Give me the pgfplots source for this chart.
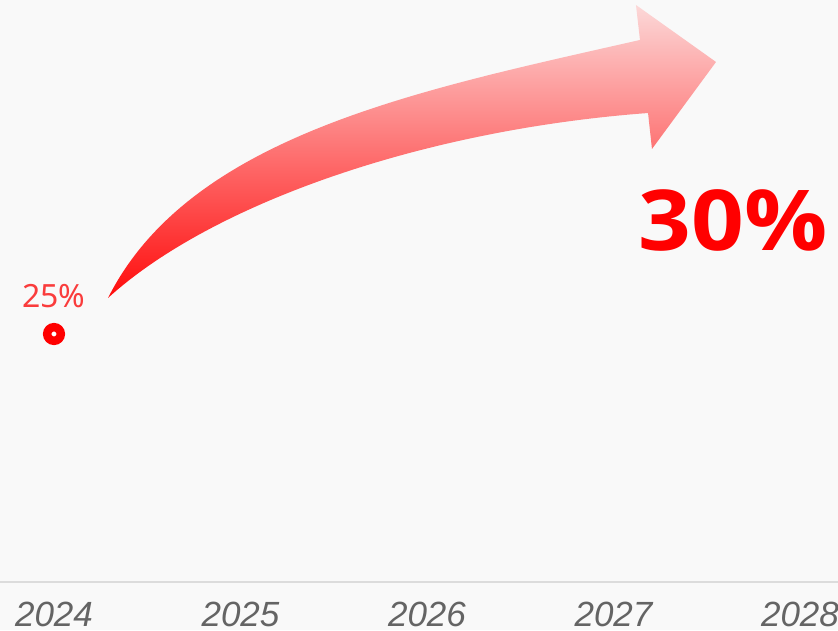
\documentclass[border=0pt]{standalone}
\usepackage{pgfplots}
\pgfplotsset{compat=1.18}
\usepackage{fontspec}
\setmainfont{Noto Sans}
\newfontfamily\bigfont{Open Sans}[FakeStretch=1.1]
\newfontfamily\tickfont{Liberation Sans}
\definecolor{bgc}{RGB}{249,249,249}
\definecolor{axisln}{RGB}{220,220,220}
\definecolor{ticktxt}{RGB}{100,100,100}
\definecolor{lbl}{RGB}{250,60,60}
\definecolor{arrtop}{RGB}{252,216,216}
\definecolor{arrbot}{RGB}{255,12,12}

\begin{document}
\begin{tikzpicture}
\useasboundingbox (0,-24pt) rectangle (419pt,291pt);
\fill[bgc] (0,-24pt) rectangle (419pt,291pt);
\begin{axis}[
    at={(0,0)}, anchor=south west,
    scale only axis,
    width=419pt, height=291pt,
    xmin=2023.7105, xmax=2028.204,
    ymin=0, ymax=58.67,
    axis x line=bottom,
    axis y line=none,
    axis line style={draw=axisln, line width=1pt, -},
    xtick={2024,2025,2026,2027,2028},
    xticklabels={2024,2025,2026,2027,2028},
    major tick length=0pt,
    xticklabel style={font=\tickfont\itshape\fontsize{17.5}{19}\selectfont, text=ticktxt, anchor=center, yshift=-16pt},
    clip=false,
]
% curved gradient arrow (decoration), positions in relative axis units
\shade[top color=arrtop, bottom color=arrbot]
  (rel axis cs:0.1289,0.4880)
  .. controls (rel axis cs:0.2267,0.7680) and (rel axis cs:0.5012,0.8454) ..
  (rel axis cs:0.7637,0.9313)
  -- (rel axis cs:0.7589,0.9914)
  -- (rel axis cs:0.8544,0.8935)
  -- (rel axis cs:0.7780,0.7440)
  -- (rel axis cs:0.7733,0.8058)
  .. controls (rel axis cs:0.5012,0.7766) and (rel axis cs:0.2506,0.6478) ..
  (rel axis cs:0.1289,0.4880) -- cycle;

\addplot[only marks, mark=*, mark size=3.4pt,
  mark options={draw=red, fill=white, line width=4.25pt},
  nodes near coords, point meta=explicit symbolic,
  nodes near coords style={font=\fontsize{16}{18}\selectfont, text=lbl, anchor=center, yshift=19pt}]
  coordinates {(2024,25) [25\%]};

\node[font=\bigfont\bfseries\fontsize{42}{44}\selectfont, text=red, anchor=center]
  at (rel axis cs:0.8747,0.622) {30\%};
\end{axis}
\end{tikzpicture}
\end{document}
